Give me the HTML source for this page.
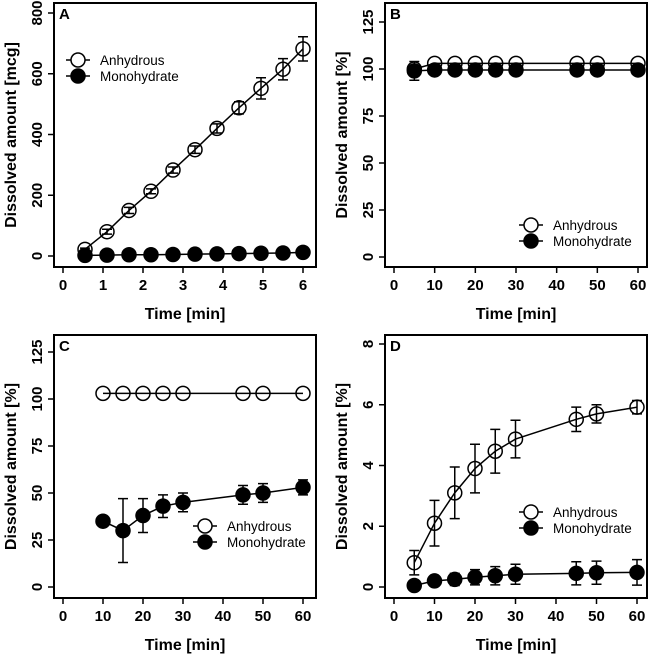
<!DOCTYPE html>
<html><head><meta charset="utf-8"><style>
body{margin:0;background:#fff}
svg{display:block;font-family:"Liberation Sans",Arial,sans-serif}
</style></head><body>
<svg id="fig" width="650" height="655" viewBox="0 0 650 655"></svg>
<script>
// Panel A
const aX=[0.55,1.1,1.65,2.2,2.75,3.3,3.85,4.4,4.95,5.5,6];
const aAnh=[22,80,150,213,283,350,420,488,552,615,682];
const aAnhErr=[4,8,10,8,10,12,15,20,35,35,40];
const aMono=[2,3,4,4,5,6,7,8,9,10,12];
const aMonoErr=[0,0,0,0,0,0,0,0,0,0,0];
const aXTicks=[0,1,2,3,4,5,6];
const aYTicks=[0,200,400,600,800];
// Panel B
const bX=[5,10,15,20,25,30,45,50,60];
const bAnh=[100,103,103,103,103,103,103,103,103];
const bAnhErr=[0,0,0,0,0,0,0,0,0];
const bMono=[99,99.5,99.5,99.5,99.5,99.5,99.5,99.5,99.5];
const bMonoErr=[5,1,1,1,1,1,1,1,1];
const pctYTicks=[0,25,50,75,100,125];
const minXTicks=[0,10,20,30,40,50,60];
// Panel C
const cX=[10,15,20,25,30,45,50,60];
const cAnh=[103,103,103,103,103,103,103,103];
const cAnhErr=[0,0,0,0,0,0,0,0];
const cMono=[35,30,38,43,45,49,50,53];
const cMonoErr=[0,17,9,6,5,5,5,4];
// Panel D
const dX=[5,10,15,20,25,30,45,50,60];
const dAnh=[0.8,2.1,3.1,3.9,4.47,4.87,5.52,5.7,5.92];
const dAnhErr=[0.4,0.75,0.85,0.8,0.72,0.62,0.4,0.3,0.22];
const dMono=[0.05,0.2,0.25,0.32,0.37,0.42,0.45,0.47,0.48];
const dMonoErr=[0.03,0.05,0.2,0.25,0.3,0.33,0.38,0.38,0.42];
const dYTicks=[0,2,4,6,8];

const NS="http://www.w3.org/2000/svg";
const svg=document.getElementById('fig');
function mk(tag,attrs,parent){const e=document.createElementNS(NS,tag);for(const k in attrs)e.setAttribute(k,attrs[k]);(parent||svg).appendChild(e);return e;}

function panel(o){
  const g=mk('g',{});
  
  
  const sx=v=>o.x0+(v-o.xmin)*(o.x1-o.x0)/(o.xmax-o.xmin);
  const sy=v=>o.y0+(v-o.ymin)*(o.y1-o.y0)/(o.ymax-o.ymin);
  const box=mk('rect',{x:o.L,y:o.T,width:o.R-o.L,height:o.B-o.T,fill:'none',stroke:'#000','stroke-width':2},g);
  
  
  const lt=mk('text',{x:o.L+5,y:o.T+16,'font-size':15,'font-weight':'bold'},g);
  lt.textContent=o.letter;
  
  
  o.xt.forEach(t=>{
    mk('line',{x1:sx(t),x2:sx(t),y1:o.B,y2:o.B+6,stroke:'#000','stroke-width':1.5},g);
    const tx=mk('text',{x:sx(t),y:o.B+23,'font-size':15,'font-weight':'bold','text-anchor':'middle'},g);
    tx.textContent=t;
    
    
  });
  o.yt.forEach(t=>{
    mk('line',{x1:o.L-6,x2:o.L,y1:sy(t),y2:sy(t),stroke:'#000','stroke-width':1.5},g);
    const X=o.L-12,Y=sy(t);
    const ty=mk('text',{x:X,y:Y,'font-size':15,'font-weight':'bold','text-anchor':'middle',transform:`rotate(-90 ${X} ${Y})`},g);
    ty.textContent=t;
    
    
  });
  const xtt=mk('text',{x:(o.L+o.R)/2,y:o.B+52,'font-size':16,'font-weight':'bold','text-anchor':'middle'},g);
  xtt.textContent='Time [min]';
  
  
  const YX=o.L-38,YY=(o.T+o.B)/2;
  const ytt=mk('text',{x:YX,y:YY,'font-size':16,'font-weight':'bold','text-anchor':'middle',transform:`rotate(-90 ${YX} ${YY})`},g);
  ytt.textContent=o.ytitle;
  
  
  function series(xs,ys,es,filled,name){
    const sg=mk('g',{},g);
    
    
    mk('polyline',{points:xs.map((x,i)=>sx(x)+','+sy(ys[i])).join(' '),fill:'none',stroke:'#000','stroke-width':1.5},sg);
    xs.forEach((x,i)=>{
      const e=es[i];
      if(e>0){
        const X=sx(x),a=sy(ys[i]-e),b=sy(ys[i]+e);
        mk('path',{d:`M${X},${a}V${b}M${X-5},${a}H${X+5}M${X-5},${b}H${X+5}`,stroke:'#000','stroke-width':1.5,fill:'none'},sg);
      }
      const c=mk('circle',{cx:sx(x),cy:sy(ys[i]),r:7,fill:filled?'#000':'none',stroke:'#000','stroke-width':1.5},sg);
      
      
    });
  }
  series(o.xs,o.anh,o.anhE,false,'anhydrous');
  series(o.xs,o.mono,o.monoE,true,'monohydrate');
  const lg=mk('g',{},g);
  
  
  [['Anhydrous',false],['Monohydrate',true]].forEach((it,i)=>{
    const y=o.ly+i*16;
    mk('line',{x1:o.lx-12,x2:o.lx+12,y1:y,y2:y,stroke:'#000','stroke-width':1.5},lg);
    mk('circle',{cx:o.lx,cy:y,r:7,fill:it[1]?'#000':'#fff',stroke:'#000','stroke-width':1.5},lg);
    const t=mk('text',{x:o.lx+22,y:y+5,'font-size':13.5},lg);
    t.textContent=it[0];
    
    
  });
}
panel({letter:'A',L:54,T:3,R:316,B:267,xmin:0,xmax:6,x0:63,x1:303,ymin:0,ymax:800,y0:256,y1:13,
  xt:aXTicks,yt:aYTicks,ytitle:'Dissolved amount [mcg]',xs:aX,anh:aAnh,anhE:aAnhErr,mono:aMono,monoE:aMonoErr,lx:78,ly:60});
panel({letter:'B',L:385,T:3,R:647,B:267,xmin:0,xmax:60,x0:394,x1:638,ymin:0,ymax:125,y0:257,y1:22,
  xt:minXTicks,yt:pctYTicks,ytitle:'Dissolved amount [%]',xs:bX,anh:bAnh,anhE:bAnhErr,mono:bMono,monoE:bMonoErr,lx:531,ly:225});
panel({letter:'C',L:54,T:335,R:316,B:598,xmin:0,xmax:60,x0:63,x1:303,ymin:0,ymax:125,y0:587,y1:352,
  xt:minXTicks,yt:pctYTicks,ytitle:'Dissolved amount [%]',xs:cX,anh:cAnh,anhE:cAnhErr,mono:cMono,monoE:cMonoErr,lx:205,ly:526});
panel({letter:'D',L:385,T:335,R:647,B:598,xmin:0,xmax:60,x0:394,x1:637,ymin:0,ymax:8,y0:587,y1:344,
  xt:minXTicks,yt:dYTicks,ytitle:'Dissolved amount [%]',xs:dX,anh:dAnh,anhE:dAnhErr,mono:dMono,monoE:dMonoErr,lx:531,ly:512});
</script>
</body></html>
